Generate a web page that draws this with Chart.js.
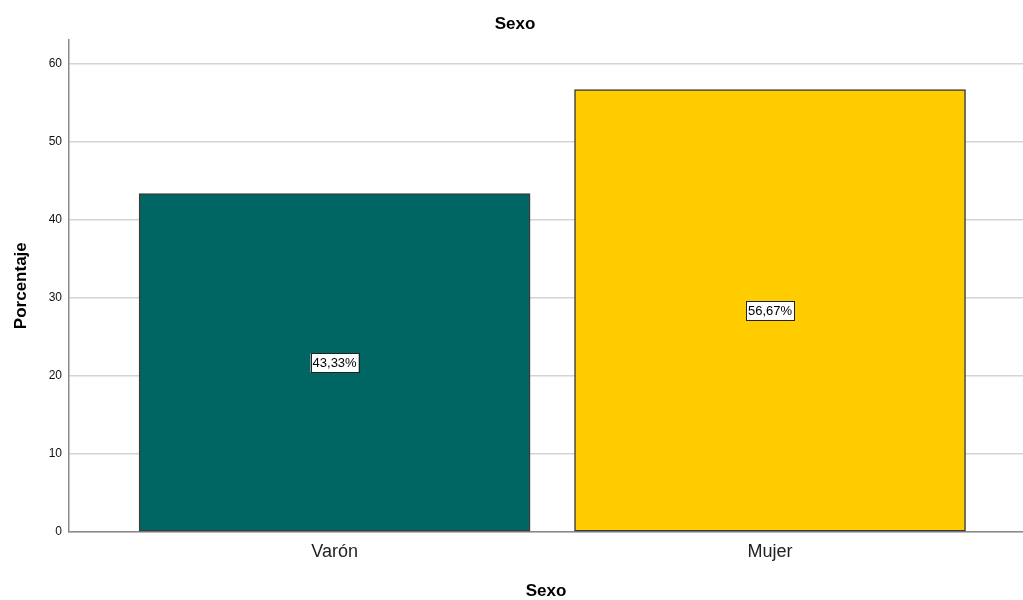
<!DOCTYPE html>
<html>
<head>
<meta charset="utf-8">
<script src="https://cdn.jsdelivr.net/npm/chart.js@4"></script>
<style>
  html, body { margin: 0; padding: 0; background: #fff; }
  #wrap { width: 1023px; height: 600px; }
</style>
</head>
<body>
<div id="wrap"><canvas id="chart"></canvas></div>
<script>
// Data
const categories = ["Varón", "Mujer"];
const percentages = [43.33, 56.67];
const barColors = ["#006663", "#ffcc00"];
const yTicks = [0, 10, 20, 30, 40, 50, 60];

// Labels inside the bars (boxed, like SPSS)
const boxLabels = {
  id: "boxLabels",
  afterDatasetsDraw(chart) {
    const c = chart.ctx;
    const meta = chart.getDatasetMeta(0);
    const yScale = chart.scales.y;
    c.save();
    c.font = "13px 'Liberation Sans', Arial, sans-serif";
    c.textAlign = "center";
    c.textBaseline = "middle";
    meta.data.forEach((bar, idx) => {
      const v = percentages[idx];
      const text = v.toFixed(2).replace(".", ",") + "%";
      const x = bar.x;
      const y = yScale.getPixelForValue(v / 2);
      const w = c.measureText(text).width + 4;
      const h = 19;
      c.fillStyle = "#fff";
      c.fillRect(x - w / 2, y - h / 2, w, h);
      c.strokeStyle = "#222";
      c.lineWidth = 1;
      c.strokeRect(Math.round(x - w / 2) + 0.5, Math.round(y - h / 2) + 0.5, Math.round(w), h);
      c.fillStyle = "#000";
      c.fillText(text, x, y + 1);
    });
    c.restore();
  }
};

new Chart(document.getElementById("chart"), {
  type: "bar",
  data: {
    datasets: [{
      data: percentages.map((v, i) => ({ x: i, y: v })),
      backgroundColor: barColors,
      borderColor: "#3a3a3a",
      borderWidth: 1.5,
      borderSkipped: false,
      barThickness: 391
    }]
  },
  options: {
    responsive: true,
    maintainAspectRatio: false,
    animation: false,
    layout: { padding: { left: 7, right: 0, top: 0, bottom: 0 } },
    plugins: {
      legend: { display: false },
      tooltip: { enabled: false },
      title: {
        display: true,
        text: "Sexo",
        color: "#000",
        font: { family: "'Liberation Sans', Arial, sans-serif", size: 17, weight: "bold" },
        padding: { top: 14, bottom: 5 }
      }
    },
    scales: {
      x: {
        type: "linear",
        offset: false,
        min: -0.61,
        max: 1.581,
        afterBuildTicks: (scale) => { scale.ticks = categories.map((_, i) => ({ value: i })); },
        afterFit: (scale) => { scale.height = 68; },
        grid: { display: false, drawTicks: false },
        border: { display: true, color: "#8a8a8a", width: 1.5 },
        ticks: {
          padding: 9,
          color: "#222",
          font: { family: "'Liberation Sans', Arial, sans-serif", size: 18 },
          callback: (v) => categories[v] ?? ""
        },
        title: {
          display: true,
          text: "Sexo",
          color: "#000",
          font: { family: "'Liberation Sans', Arial, sans-serif", size: 17, weight: "bold" },
          padding: { top: 20, bottom: -2 }
        }
      },
      y: {
        min: 0,
        max: 63.08,
        afterBuildTicks: (scale) => { scale.ticks = yTicks.map(v => ({ value: v })); },
        afterFit: (scale) => { scale.width = 62; },
        grid: { color: "#d4d4d4", lineWidth: 1.5, drawTicks: false },
        border: { display: true, color: "#8a8a8a", width: 1.5 },
        ticks: {
          padding: 7,
          color: "#111",
          font: { family: "'Liberation Sans', Arial, sans-serif", size: 12 }
        },
        title: {
          display: true,
          text: "Porcentaje",
          color: "#000",
          font: { family: "'Liberation Sans', Arial, sans-serif", size: 17, weight: "bold" },
          padding: { bottom: 10 }
        }
      }
    }
  },
  plugins: [boxLabels]
});
</script>
</body>
</html>
